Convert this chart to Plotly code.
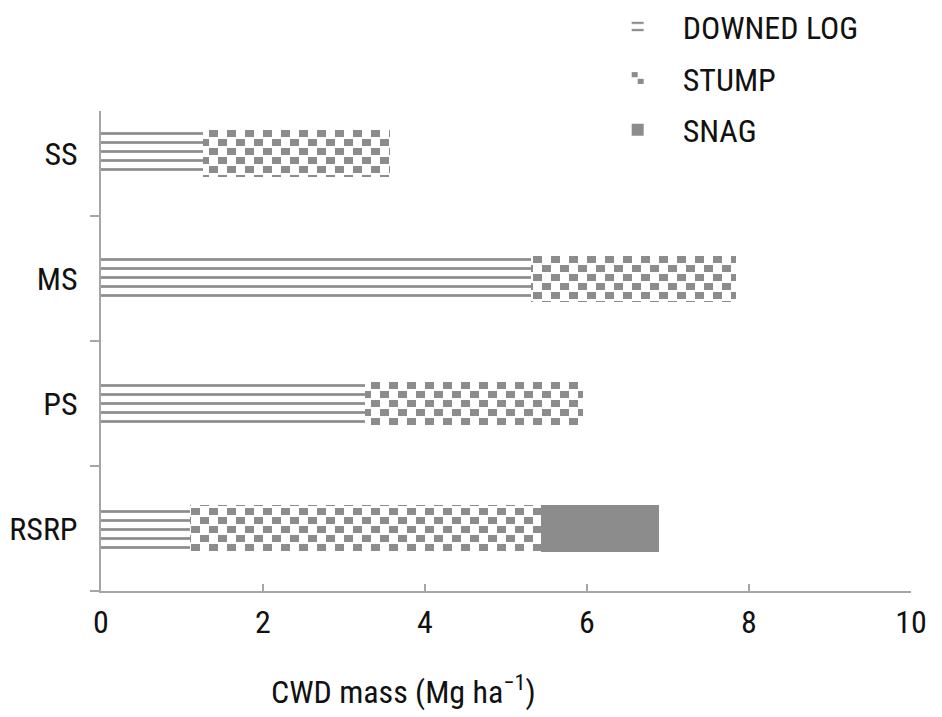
import plotly.graph_objects as go

# data (Mg ha-1)
sites = ["RSRP", "PS", "MS", "SS"]
downed_log = [1.10, 3.26, 5.31, 1.26]
stump = [4.33, 2.69, 2.53, 2.31]
snag = [1.46, 0, 0, 0]

x_ticks = [0, 2, 4, 6, 8, 10]

GREY = "#8c8c8c"
AXIS = "#a6a6a6"
FONT = "Liberation Sans Narrow, Roboto Condensed, DejaVu Sans Condensed, Arial Narrow, sans-serif"

fig = go.Figure()

fig.add_trace(go.Bar(
    y=sites, x=downed_log, orientation="h", name="DOWNED LOG",
    legendgroup="a", width=0.38,
    marker=dict(color="white", line_width=0,
                pattern=dict(shape="-", size=9, solidity=0.3,
                             fgcolor=GREY, bgcolor="white", fillmode="replace")),
))
fig.add_trace(go.Bar(
    y=sites, x=stump, orientation="h", name="STUMP",
    legendgroup="b", width=0.38,
    marker=dict(color="white", line_width=0,
                pattern=dict(shape=".", size=9, solidity=0.5,
                             fgcolor=GREY, bgcolor="white", fillmode="replace")),
))
fig.add_trace(go.Bar(
    y=sites, x=snag, orientation="h", name="SNAG",
    legendgroup="c", width=0.38,
    marker=dict(color=GREY, line_width=0),
))

# margins are 8px smaller on the top/left because the page body adds an 8px offset
fig.update_layout(
    width=942, height=717,
    barmode="stack",
    plot_bgcolor="white", paper_bgcolor="white",
    margin=dict(l=93, r=39, t=103, b=134, autoexpand=False),
    font=dict(family=FONT, size=32, color="#111111"),
    legend=dict(
        x=0.607, y=1.233, xanchor="left", yanchor="top",
        traceorder="grouped", tracegroupgap=7, itemwidth=80,
        font=dict(size=32), bgcolor="rgba(0,0,0,0)",
    ),
    annotations=[dict(
        text="CWD mass (Mg ha<sup>−1</sup>)",
        x=0.374, y=-0.206, xref="paper", yref="paper",
        xanchor="center", yanchor="middle", showarrow=False,
        font=dict(size=32),
    )],
)

fig.update_xaxes(
    range=[0, 10], tickvals=x_ticks, ticks="inside", ticklen=7,
    tickcolor=AXIS, tickwidth=2, showline=True, linecolor=AXIS, linewidth=2,
    showgrid=False, zeroline=False, ticklabelstandoff=2, automargin=False,
    tickfont=dict(size=32),
)
fig.update_yaxes(
    categoryorder="array", categoryarray=sites, range=[-0.5, 3.34],
    ticks="outside", tickson="boundaries", ticklen=9, tickcolor=AXIS, tickwidth=2,
    showline=True, linecolor=AXIS, linewidth=2, showgrid=False,
    ticklabelstandoff=15, automargin=False, tickfont=dict(size=32),
)

# plotly has no checkerboard fill, so turn the dot pattern into one after drawing
checker_js = """
var gd = document.getElementById('{plot_id}');
var ns = 'http://www.w3.org/2000/svg';
gd.querySelectorAll('pattern').forEach(function(p) {
    if (!p.querySelector('circle')) return;
    while (p.firstChild) p.removeChild(p.firstChild);
    p.setAttribute('width', 18);
    p.setAttribute('height', 18);
    [[0, 0, 18, 18, '#ffffff'], [0, 1, 9, 7, '%s'], [9, 10, 9, 7, '%s']].forEach(function(r) {
        var e = document.createElementNS(ns, 'rect');
        e.setAttribute('x', r[0]); e.setAttribute('y', r[1]);
        e.setAttribute('width', r[2]); e.setAttribute('height', r[3]);
        e.setAttribute('fill', r[4]);
        p.appendChild(e);
    });
});
""" % (GREY, GREY)

fig.write_html("out.html", post_script=checker_js)
